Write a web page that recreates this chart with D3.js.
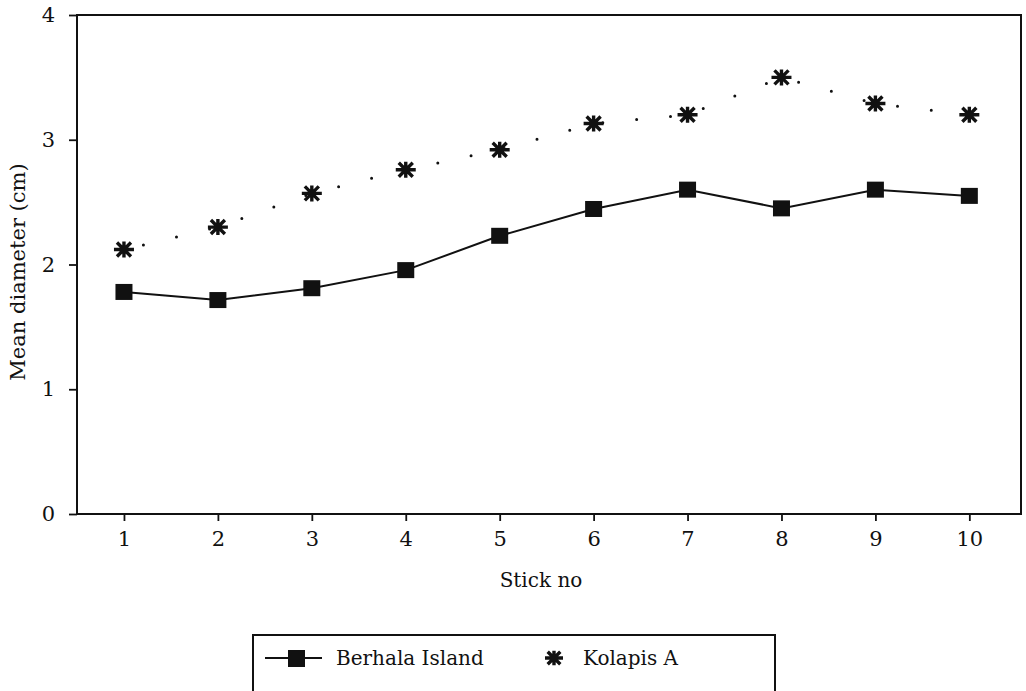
<!DOCTYPE html>
<html>
<head>
<meta charset="utf-8">
<script src="https://cdn.jsdelivr.net/npm/d3@7"></script>
<style>
  body { margin: 0; background: #fff; }
  svg text { font-family: "DejaVu Serif", "Liberation Serif", serif; fill: #111; }
</style>
</head>
<body>
<div id="container"></div>
<script>
// data
const sticks = [1, 2, 3, 4, 5, 6, 7, 8, 9, 10];
const berhala = [1.78, 1.715, 1.81, 1.955, 2.23, 2.445, 2.60, 2.45, 2.60, 2.55];
const kolapis = [2.12, 2.30, 2.57, 2.76, 2.92, 3.13, 3.20, 3.50, 3.29, 3.20];
const yTicks = [0, 1, 2, 3, 4];
const seriesNames = ["Berhala Island", "Kolapis A"];

const w = 1026;
const h = 691;
const plotLeft = 77, plotTop = 15, plotRight = 1021, plotBottom = 514;
const fontSize = 20;

const svg = d3.select("#container")
  .append("svg")
  .attr("width", w)
  .attr("height", h);

const xScale = d3.scaleLinear()
  .domain([0.5, 10.55])
  .range([plotLeft, plotRight]);

const yScale = d3.scaleLinear()
  .domain([0, 4])
  .range([plotBottom, plotTop]);

const xAxis = d3.axisBottom(xScale)
  .tickValues(sticks)
  .tickSize(7)
  .tickPadding(10)
  .tickFormat(d3.format("d"));

const yAxis = d3.axisLeft(yScale)
  .tickValues(yTicks)
  .tickSize(8)
  .tickPadding(14)
  .tickFormat(d3.format("d"));

const gx = svg.append("g")
  .attr("transform", "translate(0," + plotBottom + ")")
  .call(xAxis);

const gy = svg.append("g")
  .attr("transform", "translate(" + plotLeft + ",0)")
  .call(yAxis);

[gx, gy].forEach(g => {
  g.select(".domain").remove();
  g.selectAll(".tick line").attr("stroke", "#111").attr("stroke-width", 1.8);
  g.selectAll(".tick text")
    .attr("font-size", 21)
    .attr("fill", "#111")
    .style("font-family", "'DejaVu Serif', serif");
});

// frame
svg.append("rect")
  .attr("x", plotLeft)
  .attr("y", plotTop)
  .attr("width", plotRight - plotLeft)
  .attr("height", plotBottom - plotTop)
  .attr("fill", "none")
  .attr("stroke", "#111")
  .attr("stroke-width", 2);

// axis titles
svg.append("text")
  .attr("x", 541)
  .attr("y", 587)
  .attr("text-anchor", "middle")
  .attr("font-size", fontSize)
  .text("Stick no");

svg.append("text")
  .attr("transform", "translate(25,272) rotate(-90)")
  .attr("text-anchor", "middle")
  .attr("font-size", 21)
  .text("Mean diameter (cm)");

// Kolapis A, sparse dotted line
const kLine = d3.line()
  .x((d, i) => xScale(sticks[i]))
  .y(d => yScale(d));

svg.append("path")
  .datum(kolapis)
  .attr("d", kLine)
  .attr("fill", "none")
  .attr("stroke", "#111")
  .attr("stroke-width", 3)
  .attr("stroke-linecap", "round")
  .attr("stroke-dasharray", "0,34")
  .attr("stroke-dashoffset", -20);

// Berhala Island, solid line
const bLine = d3.line()
  .x((d, i) => xScale(sticks[i]))
  .y(d => yScale(d));

svg.append("path")
  .datum(berhala)
  .attr("d", bLine)
  .attr("fill", "none")
  .attr("stroke", "#111")
  .attr("stroke-width", 2);

function star(g, s) {
  const r = s / 2;
  const d = r * 0.7;
  g.append("path")
    .attr("d", "M" + (-r) + ",0H" + r +
      "M" + (-d) + "," + (-d) + "L" + d + "," + d +
      "M" + (-d) + "," + d + "L" + d + "," + (-d) +
      "M0," + (-r * 0.8) + "V" + (r * 0.8))
    .attr("stroke", "#111")
    .attr("stroke-width", 3.4)
    .attr("fill", "none");
}

svg.selectAll("rect.sq")
  .data(berhala)
  .enter()
  .append("rect")
  .attr("class", "sq")
  .attr("x", (d, i) => xScale(sticks[i]) - 8.5)
  .attr("y", d => yScale(d) - 8)
  .attr("width", 17)
  .attr("height", 16)
  .attr("fill", "#111");

svg.selectAll("g.st")
  .data(kolapis)
  .enter()
  .append("g")
  .attr("class", "st")
  .attr("transform", (d, i) => "translate(" + xScale(sticks[i]) + "," + yScale(d) + ")")
  .each(function() { star(d3.select(this), 20); });

// legend
const lg = svg.append("g");
lg.append("rect")
  .attr("x", 253)
  .attr("y", 635)
  .attr("width", 522)
  .attr("height", 70)
  .attr("fill", "none")
  .attr("stroke", "#111")
  .attr("stroke-width", 2);

lg.append("line")
  .attr("x1", 265).attr("x2", 322)
  .attr("y1", 658).attr("y2", 658)
  .attr("stroke", "#111")
  .attr("stroke-width", 2);
lg.append("rect")
  .attr("x", 288).attr("y", 650)
  .attr("width", 17).attr("height", 17)
  .attr("fill", "#111");
lg.append("text")
  .attr("x", 336).attr("y", 665)
  .attr("font-size", fontSize)
  .text(seriesNames[0]);

star(lg.append("g").attr("transform", "translate(554,658)"), 18);
lg.append("text")
  .attr("x", 583).attr("y", 665)
  .attr("font-size", fontSize)
  .text(seriesNames[1]);
</script>
</body>
</html>
